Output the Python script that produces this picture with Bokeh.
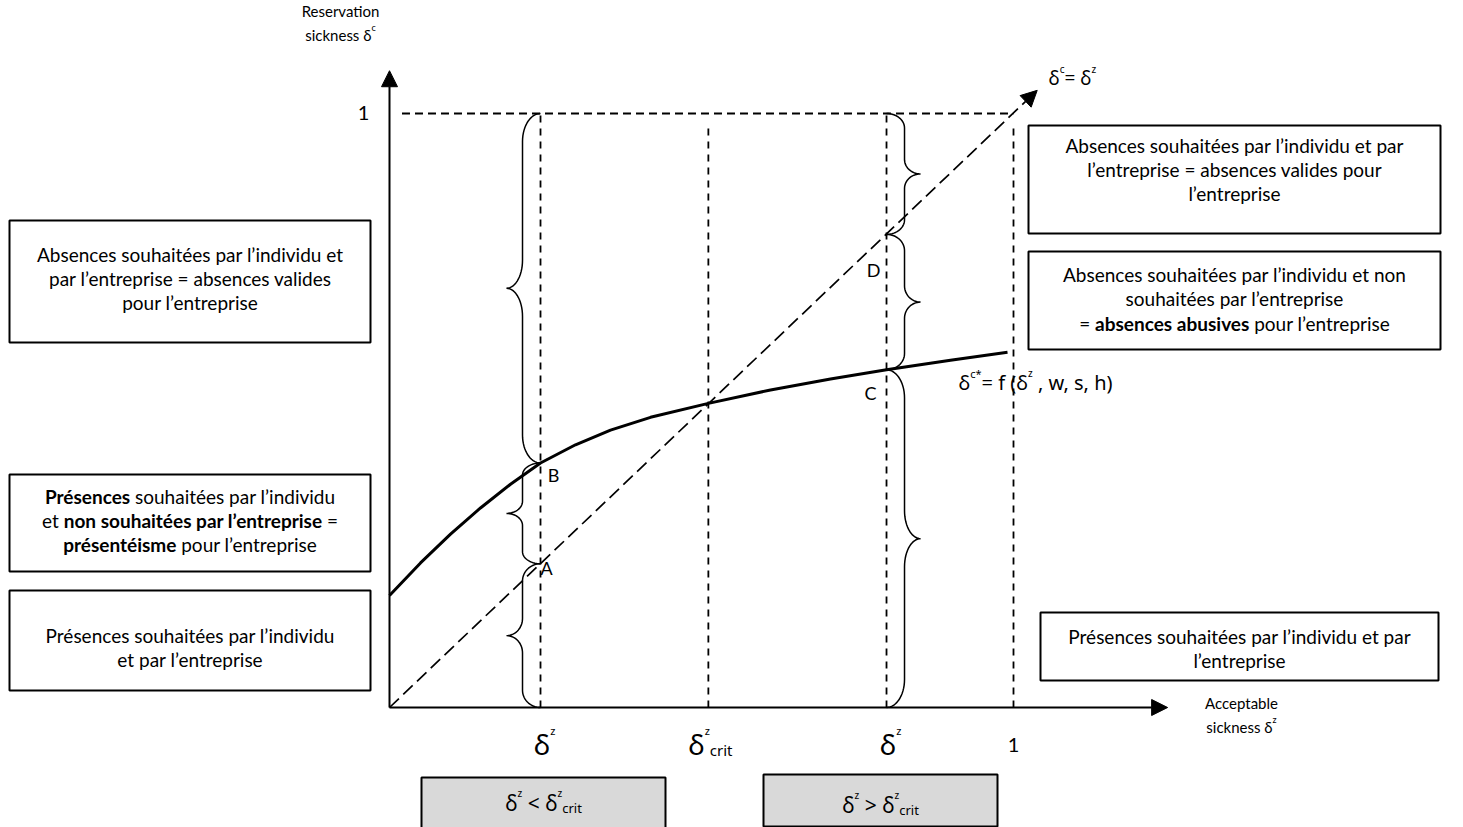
import glob
import os
import subprocess

import numpy as np
from bokeh.embed import file_html
from bokeh.models import Arrow, ColumnDataSource, NormalHead, Range1d
from bokeh.plotting import figure
from bokeh.resources import INLINE

# ---------------- data ----------------
dz_low = 0.242          # δz  (left case)
dz_crit = 0.511         # δz crit
dz_high = 0.7965        # δz  (right case)
dz_one = 1.0            # 1
top_level = 1.0         # δc = 1

# reservation sickness curve  δc* = f(δz, w, s, h)
curve_x = [0.000, 0.0497, 0.0978, 0.1458, 0.1939, 0.242, 0.2981, 0.3542, 0.4183,
           0.511, 0.6106, 0.7067, 0.7965, 0.8990, 0.9904]
curve_y = [0.1886, 0.2434, 0.2919, 0.3359, 0.3758, 0.4116, 0.4423, 0.4670, 0.4885,
           0.5120, 0.5345, 0.5530, 0.5685, 0.5847, 0.5981]

# vertical reference lines and their upper ends
vline_x = [dz_low, dz_crit, dz_high, dz_one]
vline_top = [1.0, 0.98, 1.0, 0.975]
hline_x = [0.02, 1.0]           # dashed line at δc = 1
diag_end = [1.038, 1.039]       # end of the δc = δz arrow
axis_end = [1.247, 1.072]       # ends of the x and y axis arrows

point_labels = ["B", "A", "D", "C"]

box_texts_left = [
    [[("Absences souhaitées par l’individu et", False)],
     [("par l’entreprise = absences valides", False)],
     [("pour l’entreprise", False)]],
    [[("Présences", True), (" souhaitées par l’individu", False)],
     [("et ", False), ("non souhaitées par l’entreprise", True), (" =", False)],
     [("présentéisme", True), (" pour l’entreprise", False)]],
    [[("Présences souhaitées par l’individu", False)],
     [("et par l’entreprise", False)]],
]
box_texts_right = [
    [[("Absences souhaitées par l’individu et par", False)],
     [("l’entreprise = absences valides pour", False)],
     [("l’entreprise", False)]],
    [[("Absences souhaitées par l’individu et non", False)],
     [("souhaitées par l’entreprise", False)],
     [("= ", False), ("absences abusives", True), (" pour l’entreprise", False)]],
    [[("Présences souhaitées par l’individu et par", False)],
     [("l’entreprise", False)]],
]

# ---------------- page geometry ----------------
W, H = 1463, 827
PX0, PY0 = 389.0, 707.0   # page pixel of the origin
SX, SY = 624.0, 594.0     # pixels per data unit


def dx(px):
    return (px - PX0) / SX


def dy(py):
    return (PY0 - py) / SY


def px_of(x):
    return PX0 + x * SX


def py_of(y):
    return PY0 - y * SY


TXT = "Lato"
MATH = "Noto Sans"
BOX_FS = 19

# ---------------- text measuring ----------------
_font_cache = {}


def _font_path(family, bold):
    style = "Bold" if bold else "Regular"
    key = family.replace(" ", "")
    try:
        out = subprocess.run(["fc-match", "-f", "%{file}", f"{family}:style={style}"],
                             capture_output=True, text=True, timeout=5).stdout.strip()
        base = os.path.basename(out).replace("-", "").replace("_", "").lower()
        if out and os.path.exists(out) and key.lower() in base:
            return out
    except Exception:
        pass
    pats = [f"{key}-{style}.ttf", f"{key}-{style}.otf"]
    if not bold:
        pats.append(f"{key}.ttf")
    for root in ["/usr/share/fonts", "/usr/local/share/fonts",
                 os.path.expanduser("~/.fonts"), os.path.expanduser("~/.local/share/fonts")]:
        for pat in pats:
            hits = glob.glob(os.path.join(root, "**", pat), recursive=True)
            if hits:
                return hits[0]
    return None


def measure(text, family, size, bold):
    k = (family, size, bold)
    if k not in _font_cache:
        f = None
        try:
            from PIL import ImageFont
            path = _font_path(family, bold)
            if path:
                f = ImageFont.truetype(path, size)
        except Exception:
            f = None
        _font_cache[k] = f
    f = _font_cache[k]
    if f is not None:
        try:
            return float(f.getlength(text))
        except Exception:
            pass
    return len(text) * size * (0.54 if bold else 0.5)


# ---------------- text runs ----------------
T = dict(x=[], y=[], text=[], font=[], size=[], style=[])


def add_line(x, cy, runs, anchor="center"):
    """runs: (text, family, size, bold, raise_px)"""
    base_size = max(r[2] for r in runs if r[4] == 0)
    baseline = cy - 0.04 * base_size
    widths = [measure(r[0], r[1], r[2], r[3]) for r in runs]
    total = sum(widths)
    cur = x - total / 2 if anchor == "center" else x
    for (txt, fam, size, bold, rz), w in zip(runs, widths):
        lead = len(txt) - len(txt.lstrip(" "))
        off = measure(" " * lead, fam, size, bold) if lead else 0.0
        T["x"].append(dx(cur + off))
        T["y"].append(dy(baseline - rz))
        T["text"].append(txt.strip(" "))
        T["font"].append(fam)
        T["size"].append(f"{size}px")
        T["style"].append("bold" if bold else "normal")
        cur += w


# ---------------- figure ----------------
p = figure(width=W, height=H, x_range=Range1d(dx(0), dx(W)),
           y_range=Range1d(dy(H), dy(0)), x_axis_type=None, y_axis_type=None,
           toolbar_location=None, output_backend="svg", min_border=0)
p.grid.visible = False
p.outline_line_color = None
p.background_fill_color = "white"

# text boxes (layout positions in page pixels)
left_boxes = [(9, 370, 220, 342), (9, 370, 474, 571), (9, 370, 590, 690)]
left_lines = [[255, 279, 303], [497, 521, 545], [636, 660]]
right_boxes = [(1028, 1440, 125, 233), (1028, 1440, 251, 349), (1040, 1438, 612, 680)]
right_lines = [[146, 170, 194], [275, 299, 324], [637, 661]]

for boxes in (left_boxes, right_boxes):
    p.quad(left=[dx(b[0]) for b in boxes], right=[dx(b[1]) for b in boxes],
           top=[dy(b[2]) for b in boxes], bottom=[dy(b[3]) for b in boxes],
           fill_color="white", line_color="black", line_width=2)

for boxes, lines, texts in ((left_boxes, left_lines, box_texts_left),
                            (right_boxes, right_lines, box_texts_right)):
    for b, ys, paras in zip(boxes, lines, texts):
        cx = (b[0] + b[1]) / 2
        for yy, line in zip(ys, paras):
            add_line(cx, yy, [(t, TXT, BOX_FS, bold, 0) for t, bold in line])

# grey condition boxes
grey = [(421, 665, 777, 832), (763, 997, 774, 826)]
p.quad(left=[dx(b[0]) for b in grey], right=[dx(b[1]) for b in grey],
       top=[dy(b[2]) for b in grey], bottom=[dy(b[3]) for b in grey],
       fill_color="#d9d9d9", line_color="black", line_width=2)
add_line(543, 803, [("δ", MATH, 21, False, 0), ("z", MATH, 10, False, 10), (" < δ", MATH, 21, False, 0),
                    ("z", MATH, 10, False, 10), ("crit", MATH, 13, False, -5)])
add_line(880, 805, [("δ", MATH, 21, False, 0), ("z", MATH, 10, False, 10), (" > δ", MATH, 21, False, 0),
                    ("z", MATH, 10, False, 10), ("crit", MATH, 13, False, -5)])

# dashed reference lines
p.segment(x0=vline_x, y0=[0] * len(vline_x), x1=vline_x, y1=vline_top,
          line_color="black", line_width=1.8, line_dash="7 6")
p.segment(x0=[hline_x[0]], y0=[top_level], x1=[hline_x[1]], y1=[top_level],
          line_color="black", line_width=1.8, line_dash="8 5")

# diagonal δc = δz
p.add_layout(Arrow(end=NormalHead(size=16, fill_color="black", line_color="black"),
                   x_start=0, y_start=0, x_end=diag_end[0], y_end=diag_end[1],
                   line_color="black", line_width=1.7, line_dash="13 6"))

# axes
p.add_layout(Arrow(end=NormalHead(size=16, fill_color="black", line_color="black"),
                   x_start=0, y_start=0, x_end=axis_end[0], y_end=0,
                   line_color="black", line_width=2))
p.add_layout(Arrow(end=NormalHead(size=16, fill_color="black", line_color="black"),
                   x_start=0, y_start=0, x_end=0, y_end=axis_end[1],
                   line_color="black", line_width=2))

# curve
p.line(curve_x, curve_y, line_color="black", line_width=3, line_join="round")


# braces
def brace(x_line, y_a, y_b, d, a=18.0, b=16.0):
    xl = px_of(x_line)
    yt, yb = sorted([py_of(y_a), py_of(y_b)])
    h = yb - yt
    r = min(28.0, max(11.0, 0.12 * h))
    ym = (yt + yb) / 2
    th = np.linspace(0, np.pi / 2, 16)
    xs, ys = [], []
    xs += list(xl + d * a * np.sin(th)); ys += list(yt + r - r * np.cos(th))
    xs += list(xl + d * (a + b) - d * b * np.cos(th)); ys += list(ym - r + r * np.sin(th))
    th2 = th[::-1]
    xs += list(xl + d * (a + b) - d * b * np.cos(th2)); ys += list(ym + r - r * np.sin(th2))
    xs += list(xl + d * a * np.sin(th2)); ys += list(yb - r + r * np.cos(th2))
    return [dx(v) for v in xs], [dy(v) for v in ys]


y_B = curve_y[curve_x.index(dz_low)]
y_A = dz_low
y_C = curve_y[curve_x.index(dz_high)]
y_D = dz_high

bx, by = [], []
for (xl, ya, yb_, d) in [(dz_low, top_level, y_B, -1), (dz_low, y_B, y_A, -1), (dz_low, y_A, 0.0, -1),
                         (dz_high, top_level, y_D, 1), (dz_high, y_D, y_C, 1), (dz_high, y_C, 0.0, 1)]:
    xs, ys = brace(xl, ya, yb_, d)
    bx.append(xs)
    by.append(ys)
p.multi_line(bx, by, line_color="black", line_width=1.5)

# point labels
for lab, (lx, ly) in zip(point_labels, [(553, 475), (546, 568), (873, 270), (870, 393)]):
    add_line(lx, ly, [(lab, TXT, 18, False, 0)])

# axis titles and ticks
add_line(340, 11, [("Reservation", TXT, 15, False, 0)])
add_line(340, 35, [("sickness δ", TXT, 15, False, 0), ("c", TXT, 9, False, 7)])
add_line(1241, 703, [("Acceptable", TXT, 15, False, 0)])
add_line(1241, 727, [("sickness δ", TXT, 15, False, 0), ("z", TXT, 9, False, 7)])
add_line(363, py_of(top_level), [("1", TXT, 20, False, 0)])
add_line(px_of(dz_one), 745, [("1", TXT, 20, False, 0)])

add_line(px_of(dz_low) + 4, 745, [("δ", MATH, 28, False, 0), ("z", MATH, 11, False, 14)])
add_line(px_of(dz_high) + 4, 745, [("δ", MATH, 28, False, 0), ("z", MATH, 11, False, 14)])
add_line(px_of(dz_crit) + 2, 745, [("δ", MATH, 28, False, 0), ("z", MATH, 11, False, 14),
                                   ("crit", MATH, 15, False, -6)])

add_line(1048, 78, [("δ", MATH, 19, False, 0), ("c", MATH, 10, False, 9), ("= δ", MATH, 19, False, 0),
                    ("z", MATH, 10, False, 9)], anchor="left")
add_line(958, 383, [("δ", MATH, 20, False, 0), ("c*", MATH, 11, False, 9), ("= f (δ", MATH, 20, False, 0),
                    ("z", MATH, 10, False, 10), (" , w, s, h)", MATH, 20, False, 0)], anchor="left")

src = ColumnDataSource(T)
p.text(x="x", y="y", text="text", source=src, text_font="font", text_font_size="size",
       text_font_style="style", text_align="left", text_baseline="alphabetic", text_color="black")

open("out.html", "w").write(file_html(p, INLINE))
